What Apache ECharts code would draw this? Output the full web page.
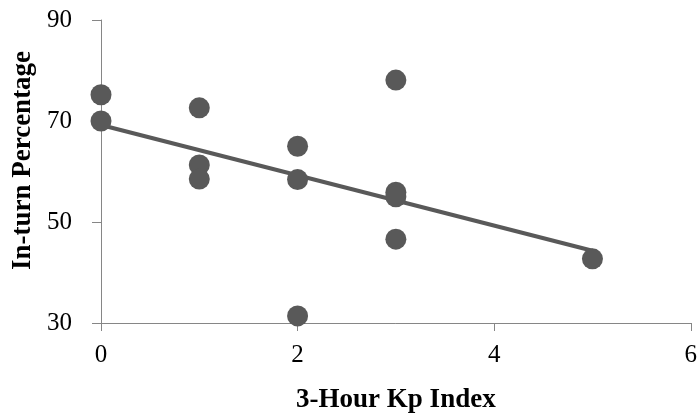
<!DOCTYPE html>
<html>
<head>
<meta charset="utf-8">
<script src="https://cdn.jsdelivr.net/npm/echarts@6/dist/echarts.min.js"></script>
<style>
  html, body { margin: 0; padding: 0; background: #fff; }
  #main { width: 700px; height: 419px; }
</style>
</head>
<body>
<div id="main"></div>
<script>
// 数据点 (Kp 指数, 百分比)
var kpValues = [0, 0, 1, 1, 1, 2, 2, 2, 3, 3, 3, 3, 5];
var percentValues = [75.2, 70.0, 72.6, 61.3, 58.5, 65.0, 58.4, 31.4, 78.1, 55.9, 55.0, 46.6, 42.7];
// 趋势线两端
var trendX = [0, 5];
var trendY = [69.2, 44.3];

var xTicks = [0, 2, 4, 6];
var yTicks = [30, 50, 70, 90];

var points = kpValues.map(function (k, i) { return [k, percentValues[i]]; });
var trend = trendX.map(function (k, i) { return [k, trendY[i]]; });

var myChart = echarts.init(document.getElementById('main'));
var axisColor = '#868686';
var font = '"Liberation Serif", "Times New Roman", serif';

myChart.setOption({
  animation: false,
  grid: { left: 101, right: 5, top: 20, bottom: 94 },
  xAxis: {
    type: 'value',
    min: xTicks[0],
    max: xTicks[xTicks.length - 1],
    interval: 2,
    name: '3-Hour Kp Index',
    nameLocation: 'middle',
    nameGap: 64,
    nameTextStyle: { fontFamily: font, fontSize: 27, fontWeight: 'bold', color: '#000' },
    axisLine: { show: true, lineStyle: { color: axisColor, width: 1 } },
    axisTick: { show: true, length: 8, lineStyle: { color: axisColor } },
    axisLabel: { margin: 20, fontFamily: font, fontSize: 25, color: '#000' },
    splitLine: { show: false }
  },
  yAxis: {
    type: 'value',
    min: yTicks[0],
    max: yTicks[yTicks.length - 1],
    interval: 20,
    name: 'In-turn Percentage',
    nameLocation: 'middle',
    nameGap: 63,
    nameTextStyle: { fontFamily: font, fontSize: 27, fontWeight: 'bold', color: '#000', padding: [0, 0, 0, 22] },
    axisLine: { show: true, lineStyle: { color: axisColor, width: 1 } },
    axisTick: { show: true, length: 9, lineStyle: { color: axisColor } },
    axisLabel: { margin: 29, fontFamily: font, fontSize: 25, color: '#000' },
    splitLine: { show: false }
  },
  series: [
    {
      type: 'line',
      data: trend,
      showSymbol: false,
      lineStyle: { color: '#595959', width: 4 },
      z: 1
    },
    {
      type: 'scatter',
      data: points,
      symbol: 'circle',
      symbolSize: 21,
      itemStyle: { color: '#595959', opacity: 1 },
      z: 2
    }
  ]
});
</script>
</body>
</html>
